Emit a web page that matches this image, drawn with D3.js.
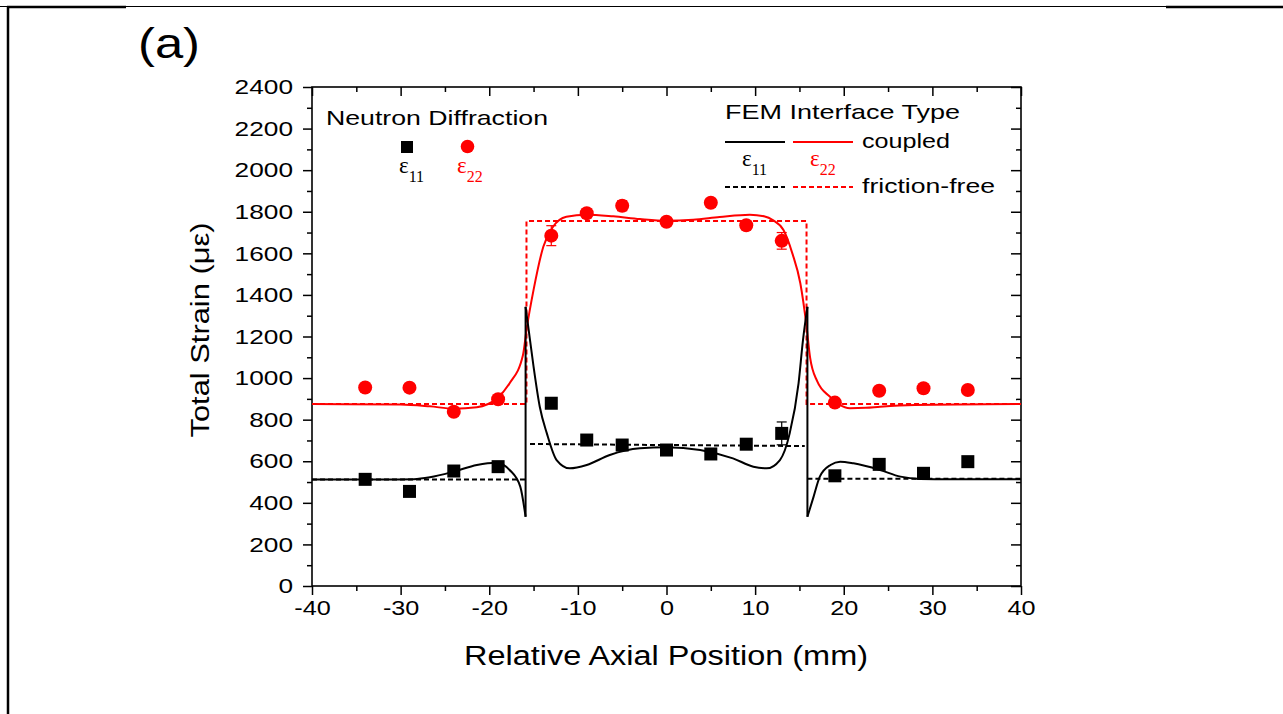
<!DOCTYPE html>
<html>
<head>
<meta charset="utf-8">
<script src="https://cdn.jsdelivr.net/npm/d3@7"></script>
<style>
  body { margin: 0; background: #fff; }
  svg { display: block; }
  text { font-family: "Liberation Sans", Arial, sans-serif; fill: #000; }
</style>
</head>
<body>
<svg id="chart" width="1283" height="714"></svg>
<script>
// neutron diffraction measurements
const ndX = [-34, -29, -24, -19, -13, -9, -5, 0, 5, 9, 13, 19, 24, 29, 34];
const nd11 = [513, 455, 553, 574, 879, 702, 678, 654, 635, 682, 734, 530, 585, 542, 598];
const nd11Err = [0, 0, 0, 0, 0, 0, 0, 0, 0, 0, 55, 0, 0, 0, 0];
const nd22 = [955, 954, 838, 898, 1685, 1793, 1829, 1752, 1843, 1735, 1660, 882, 939, 951, 943];
const nd22Err = [0, 0, 14, 0, 48, 20, 24, 18, 20, 18, 40, 0, 0, 0, 0];

// FEM coupled, eps11 (jumps at the ends of the interface, so 3 pieces)
const fem11Left = [[-40, 512], [-32, 512], [-28.5, 514], [-26.7, 523], [-24, 550], [-21.4, 582], [-19.2, 593],
  [-17.7, 558], [-16.5, 478], [-15.9, 333]];
const fem11Mid = [[-15.9, 1343], [-15.6, 1247], [-15, 1055], [-14.3, 862], [-13.5, 734], [-12.4, 606], [-10.9, 566],
  [-9, 582], [-6.4, 630], [-3, 662], [0, 667], [3.8, 654], [7.5, 614], [9.8, 574], [11.3, 566], [12.8, 606],
  [13.9, 734], [14.9, 975], [15.4, 1183], [15.9, 1343]];
const fem11Right = [[15.9, 333], [16.6, 430], [17.3, 526], [18.5, 582], [19.6, 598], [21.1, 590], [24.1, 558],
  [26.4, 526], [28.6, 515], [32, 513], [40, 513]];

// FEM coupled, eps22
const fem22 = [[-40, 875], [-30, 873], [-26.7, 864], [-24, 853], [-21.4, 860], [-19.2, 900], [-17.7, 975],
  [-16.2, 1110], [-15.8, 1231], [-15, 1424], [-13.9, 1632], [-12.8, 1728], [-11.3, 1776], [-9, 1786],
  [-6, 1778], [-3, 1765], [0, 1757], [3, 1762], [6, 1775], [9.4, 1786], [11, 1778], [12, 1760], [13.2, 1712],
  [14.2, 1600], [15.1, 1456], [15.8, 1250], [16.2, 1100], [17, 985], [18.45, 910], [19.5, 872], [20.7, 855],
  [22.5, 857], [24.1, 862], [28, 870], [40, 875]];

// FEM friction-free
const ff11 = [[[-40, 512], [-15.9, 512]], [[-15.4, 683], [15.6, 673]], [[15.9, 516], [40, 516]]];
const ff22 = [[-40, 875], [-15.8, 875], [-15.8, 1755], [15.8, 1755], [15.8, 875], [40, 875]];

const xTicks = [-40, -30, -20, -10, 0, 10, 20, 30, 40];
const xMinor = [-35, -25, -15, -5, 5, 15, 25, 35];
const yTicks = d3.range(0, 2401, 200);
const yMinor = d3.range(100, 2400, 200);

const red = "#ff0000";
const svg = d3.select("#chart");

const x = d3.scaleLinear().domain([-40, 40]).range([312, 1021]);
const y = d3.scaleLinear().domain([0, 2400]).range([586, 87]);

// stretch glyphs horizontally a bit, the source figure text is wide
function widen(sel, k) {
  sel.each(function () {
    const w = this.getComputedTextLength();
    this.setAttribute("textLength", w * k);
    this.setAttribute("lengthAdjust", "spacingAndGlyphs");
  });
}

// page frame lines
svg.append("line").attr("x1", 0).attr("x2", 1283).attr("y1", 6.5).attr("y2", 6.5)
  .attr("stroke", "#000").attr("stroke-width", 1.2);
svg.append("line").attr("x1", 7).attr("x2", 126).attr("y1", 7).attr("y2", 7)
  .attr("stroke", "#000").attr("stroke-width", 2.5);
svg.append("line").attr("x1", 1166).attr("x2", 1283).attr("y1", 7).attr("y2", 7)
  .attr("stroke", "#000").attr("stroke-width", 2.5);
svg.append("line").attr("x1", 8).attr("x2", 8).attr("y1", 6).attr("y2", 714)
  .attr("stroke", "#000").attr("stroke-width", 2.5);

svg.append("text").attr("x", 138).attr("y", 58).attr("font-size", 42)
  .attr("textLength", 62).attr("lengthAdjust", "spacingAndGlyphs").text("(a)");

// axes
function styleAxis(g) {
  g.select(".domain").remove();
  g.selectAll(".tick line").attr("stroke", "#000").attr("stroke-width", 1.5);
  g.selectAll("text").attr("font-size", 21).attr("fill", "#000")
    .attr("font-family", "Liberation Sans, Arial, sans-serif");
}
const plain = d => String(d);

const gxB = svg.append("g").attr("transform", "translate(0,586)")
  .call(d3.axisBottom(x).tickValues(xTicks).tickSize(9).tickPadding(5).tickFormat(plain))
  .call(styleAxis);
svg.append("g").attr("transform", "translate(0,586)")
  .call(d3.axisBottom(x).tickValues(xMinor).tickSize(5).tickFormat(""))
  .call(styleAxis);
svg.append("g").attr("transform", "translate(0,87)")
  .call(d3.axisBottom(x).tickValues(xTicks).tickSize(9).tickFormat(""))
  .call(styleAxis);
svg.append("g").attr("transform", "translate(0,87)")
  .call(d3.axisBottom(x).tickValues(xMinor).tickSize(5).tickFormat(""))
  .call(styleAxis);

const gyL = svg.append("g").attr("transform", "translate(312,0)")
  .call(d3.axisLeft(y).tickValues(yTicks).tickSize(9).tickPadding(10).tickFormat(plain))
  .call(styleAxis);
svg.append("g").attr("transform", "translate(312,0)")
  .call(d3.axisLeft(y).tickValues(yMinor).tickSize(5).tickFormat(""))
  .call(styleAxis);
svg.append("g").attr("transform", "translate(1021,0)")
  .call(d3.axisLeft(y).tickValues(yTicks).tickSize(10).tickFormat(""))
  .call(styleAxis);
svg.append("g").attr("transform", "translate(1021,0)")
  .call(d3.axisLeft(y).tickValues(yMinor).tickSize(5).tickFormat(""))
  .call(styleAxis);

widen(gxB.selectAll("text"), 1.2);
widen(gyL.selectAll("text"), 1.25);

svg.append("rect").attr("x", 312).attr("y", 87).attr("width", 1021 - 312).attr("height", 586 - 87)
  .attr("fill", "none").attr("stroke", "#000").attr("stroke-width", 1.6);

svg.append("text").attr("x", 666).attr("y", 665).attr("text-anchor", "middle")
  .attr("font-size", 27).attr("textLength", 404).attr("lengthAdjust", "spacingAndGlyphs")
  .text("Relative Axial Position (mm)");
svg.append("text").attr("transform", "translate(209,330) rotate(-90)").attr("text-anchor", "middle")
  .attr("font-size", 26).attr("textLength", 215).attr("lengthAdjust", "spacingAndGlyphs")
  .text("Total Strain (με)");

// curves
const line = d3.line().x(d => x(d[0])).y(d => y(d[1]));
const smooth = d3.line().x(d => x(d[0])).y(d => y(d[1])).curve(d3.curveMonotoneX);
const plot = svg.append("g");

plot.append("path").attr("d", line(ff22)).attr("fill", "none").attr("stroke", red)
  .attr("stroke-width", 2).attr("stroke-dasharray", "5,3");
ff11.forEach(seg => {
  plot.append("path").attr("d", line(seg)).attr("fill", "none").attr("stroke", "#000")
    .attr("stroke-width", 2).attr("stroke-dasharray", "5,3");
});
plot.append("path").attr("d", smooth(fem22)).attr("fill", "none").attr("stroke", red).attr("stroke-width", 2);
[fem11Left, fem11Mid, fem11Right].forEach(seg => {
  plot.append("path").attr("d", smooth(seg)).attr("fill", "none").attr("stroke", "#000").attr("stroke-width", 2);
});
// vertical jumps of the coupled eps11 curve
plot.append("path").attr("d", line([fem11Left[fem11Left.length - 1], fem11Mid[0]]))
  .attr("fill", "none").attr("stroke", "#000").attr("stroke-width", 2);
plot.append("path").attr("d", line([fem11Mid[fem11Mid.length - 1], fem11Right[0]]))
  .attr("fill", "none").attr("stroke", "#000").attr("stroke-width", 2);

// error bars
function errBars(vals, errs, color) {
  const g = plot.append("g").attr("stroke", color).attr("stroke-width", 1.2);
  ndX.forEach((xv, i) => {
    if (!errs[i]) return;
    const px = x(xv), y0 = y(vals[i] - errs[i]), y1 = y(vals[i] + errs[i]);
    g.append("line").attr("x1", px).attr("x2", px).attr("y1", y0).attr("y2", y1);
    g.append("line").attr("x1", px - 5).attr("x2", px + 5).attr("y1", y0).attr("y2", y0);
    g.append("line").attr("x1", px - 5).attr("x2", px + 5).attr("y1", y1).attr("y2", y1);
  });
}
errBars(nd22, nd22Err, red);
errBars(nd11, nd11Err, "#000");

plot.selectAll("circle.nd22").data(ndX).join("circle").attr("class", "nd22")
  .attr("cx", d => x(d)).attr("cy", (d, i) => y(nd22[i])).attr("r", 7).attr("fill", red);
plot.selectAll("rect.nd11").data(ndX).join("rect").attr("class", "nd11")
  .attr("x", d => x(d) - 6.5).attr("y", (d, i) => y(nd11[i]) - 6.5).attr("width", 13).attr("height", 13)
  .attr("fill", "#000");

// legend: neutron diffraction
svg.append("text").attr("x", 326).attr("y", 125).attr("font-size", 21)
  .attr("textLength", 222).attr("lengthAdjust", "spacingAndGlyphs").text("Neutron Diffraction");
svg.append("rect").attr("x", 401).attr("y", 141).attr("width", 12).attr("height", 12).attr("fill", "#000");
svg.append("circle").attr("cx", 467.5).attr("cy", 146.5).attr("r", 6.8).attr("fill", red);

function epsLabel(px, py, sub, color) {
  const t = svg.append("text").attr("x", px).attr("y", py)
    .style("font-family", "'Liberation Serif', 'Times New Roman', serif").style("fill", color);
  t.append("tspan").attr("font-size", 23).text("ε");
  t.append("tspan").attr("font-size", 16).attr("dy", 9).text(sub);
}
epsLabel(399, 173, "11", "#000");
epsLabel(457, 173, "22", red);

// legend: FEM
svg.append("text").attr("x", 725).attr("y", 119).attr("font-size", 21)
  .attr("textLength", 235).attr("lengthAdjust", "spacingAndGlyphs").text("FEM Interface Type");
svg.append("line").attr("x1", 725).attr("x2", 785).attr("y1", 142).attr("y2", 142)
  .attr("stroke", "#000").attr("stroke-width", 2);
svg.append("line").attr("x1", 793).attr("x2", 853).attr("y1", 142).attr("y2", 142)
  .attr("stroke", red).attr("stroke-width", 2);
svg.append("text").attr("x", 862).attr("y", 148).attr("font-size", 21)
  .attr("textLength", 88).attr("lengthAdjust", "spacingAndGlyphs").text("coupled");
epsLabel(742, 166, "11", "#000");
epsLabel(810, 166, "22", red);
svg.append("line").attr("x1", 725).attr("x2", 785).attr("y1", 187).attr("y2", 187)
  .attr("stroke", "#000").attr("stroke-width", 2).attr("stroke-dasharray", "5,3");
svg.append("line").attr("x1", 793).attr("x2", 853).attr("y1", 187).attr("y2", 187)
  .attr("stroke", red).attr("stroke-width", 2).attr("stroke-dasharray", "5,3");
svg.append("text").attr("x", 862).attr("y", 193).attr("font-size", 21)
  .attr("textLength", 133).attr("lengthAdjust", "spacingAndGlyphs").text("friction-free");
</script>
</body>
</html>
